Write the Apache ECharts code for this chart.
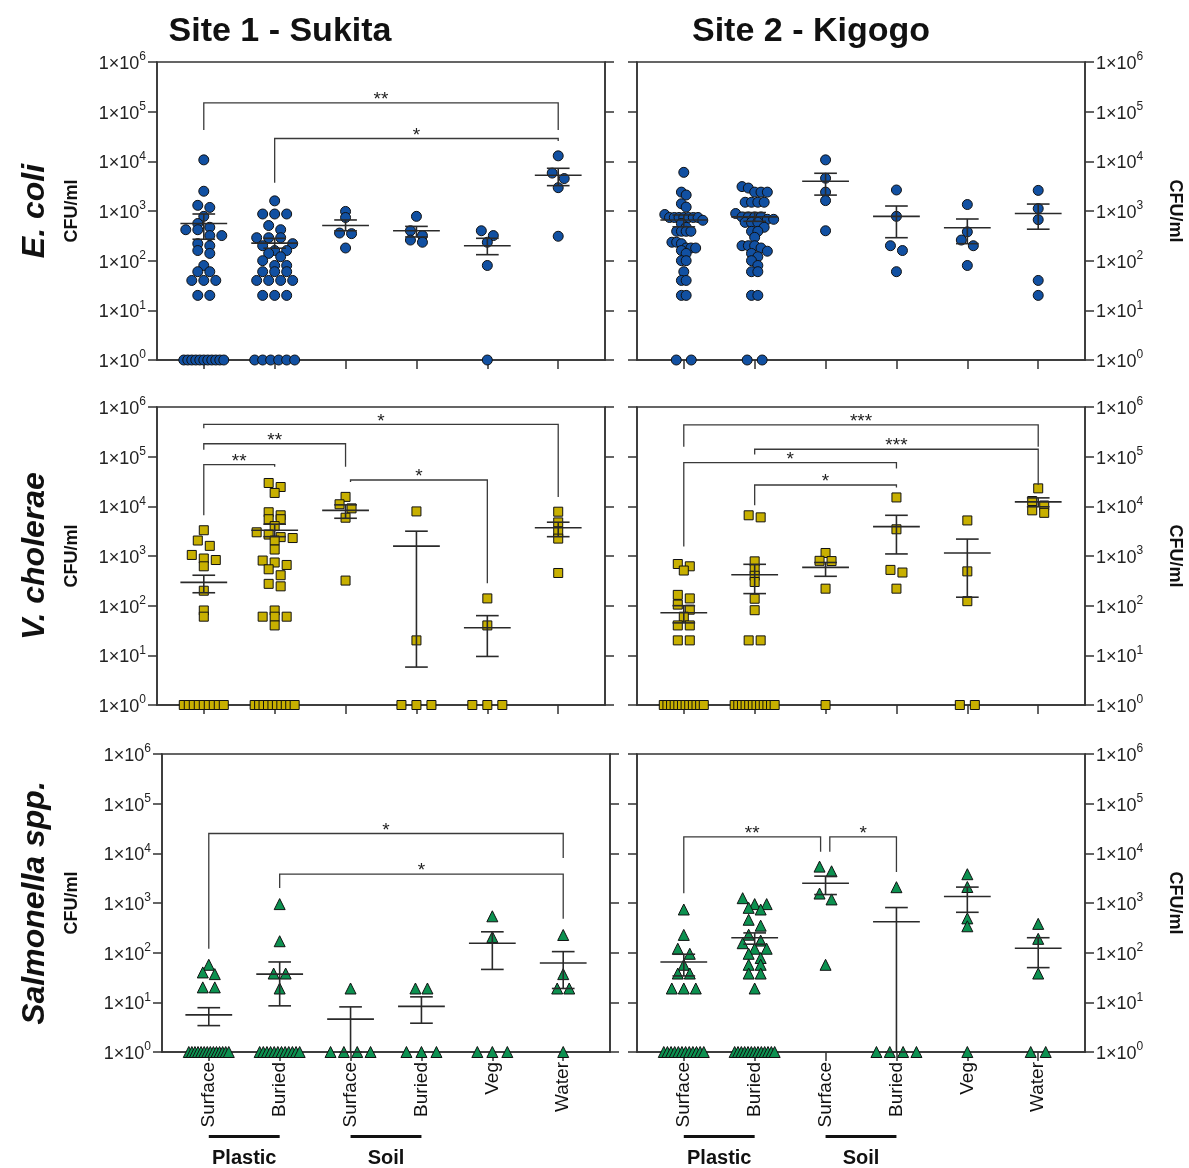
<!DOCTYPE html>
<html>
<head>
<meta charset="utf-8">
<title>CFU/ml by site</title>
<script src="https://cdn.jsdelivr.net/npm/echarts@6/dist/echarts.min.js"></script>
<style>body{margin:0;background:#fff;}</style>
</head>
<body>
<div id="main" style="width:1189px;height:1168px;"></div>
<script>
var cats = ['Surface', 'Buried', 'Surface', 'Buried', 'Veg', 'Water'];
var sites = ['Site 1 - Sukita', 'Site 2 - Kigogo'];
var bugs = ['E. coli', 'V. cholerae', 'Salmonella spp.'];
var groups = ['Plastic', 'Soil'];

// CFU/ml per sample, samples with no growth are plotted at 1
var ecoliSukita = [
  [10700, 2500, 1300, 1180, 780, 560, 470, 420, 420, 320, 320, 220, 200, 160, 140, 80, 60, 60, 40, 40, 40, 20, 20, 1, 1, 1, 1, 1, 1, 1, 1, 1, 1, 1],
  [1600, 870, 870, 870, 510, 420, 290, 290, 290, 220, 200, 160, 160, 140, 120, 100, 80, 80, 60, 60, 60, 40, 40, 40, 40, 20, 20, 20, 1, 1, 1, 1, 1, 1],
  [980, 740, 360, 350, 180],
  [780, 400, 320, 260, 235],
  [400, 320, 235, 80, 1],
  [12900, 5800, 4500, 2950, 310]
];
var ecoliKigogo = [
  [6000, 2400, 2100, 1400, 1200, 850, 740, 740, 740, 740, 740, 740, 740, 650, 560, 470, 390, 390, 390, 390, 235, 235, 220, 180, 180, 180, 160, 140, 100, 100, 60, 40, 40, 20, 20, 1, 1],
  [3100, 2900, 2400, 2400, 2400, 1500, 1500, 1500, 1500, 890, 760, 760, 760, 760, 680, 680, 590, 590, 590, 470, 390, 390, 295, 200, 200, 200, 180, 155, 140, 120, 100, 80, 60, 60, 20, 20, 1, 1],
  [10700, 4570, 2400, 1620, 400],
  [2650, 780, 200, 160, 60],
  [1350, 380, 260, 200, 80],
  [2600, 1120, 670, 40, 20]
];
var vcholSukita = [
  [3300, 2050, 1600, 1050, 890, 830, 620, 200, 80, 60, 1, 1, 1, 1, 1, 1, 1, 1, 1],
  [29500, 24500, 18600, 7600, 6600, 5500, 5500, 4000, 3000, 2700, 2400, 2300, 2050, 1350, 810, 740, 660, 540, 410, 275, 245, 80, 60, 60, 60, 40, 1, 1, 1, 1, 1, 1, 1, 1, 1, 1],
  [15500, 11000, 9100, 5900, 320],
  [7900, 20, 1, 1, 1],
  [140, 40, 1, 1, 1],
  [7800, 4750, 3100, 2240, 455]
];
var vcholKigogo = [
  [690, 620, 510, 165, 140, 105, 83, 60, 40, 40, 20, 20, 1, 1, 1, 1, 1, 1, 1, 1, 1, 1, 1, 1],
  [6600, 6000, 780, 540, 400, 300, 138, 81, 20, 20, 1, 1, 1, 1, 1, 1, 1, 1, 1, 1, 1, 1],
  [1150, 800, 790, 220, 1],
  [15100, 3450, 525, 465, 220],
  [5200, 490, 123, 1, 1],
  [23000, 12800, 10400, 8300, 7400]
];
var salmSukita = [
  [57, 40, 37, 20, 20, 1, 1, 1, 1, 1, 1, 1, 1, 1, 1, 1, 1, 1, 1],
  [950, 170, 38, 38, 19, 1, 1, 1, 1, 1, 1, 1, 1, 1, 1, 1, 1],
  [19, 1, 1, 1, 1],
  [19, 19, 1, 1, 1],
  [540, 207, 1, 1, 1],
  [227, 37, 19, 19, 1]
];
var salmKigogo = [
  [740, 228, 120, 95, 57, 38, 38, 19, 19, 19, 1, 1, 1, 1, 1, 1, 1, 1, 1, 1, 1, 1],
  [1250, 950, 950, 800, 740, 460, 350, 230, 175, 155, 120, 120, 95, 78, 57, 57, 38, 38, 19, 1, 1, 1, 1, 1, 1, 1, 1, 1, 1, 1, 1, 1],
  [5400, 4350, 1550, 1180, 57],
  [2080, 1, 1, 1, 1],
  [3800, 2100, 490, 340, 1],
  [380, 190, 38, 1, 1]
];

// mean, lower SEM, upper SEM (CFU/ml) per column
var ecoliSukitaMean = [[560, 270, 870], [225, 178, 282], [510, 400, 660], [400, 300, 490], [200, 132, 282], [5250, 3240, 7240]];
var ecoliKigogoMean = [[660, 480, 830], [760, 620, 930], [3980, 2090, 5750], [780, 290, 1260], [460, 220, 690], [890, 430, 1380]];
var vcholSukitaMean = [[295, 182, 410], [3310, 2450, 4370], [8300, 5750, 10700], [1580, 5.8, 3160], [36, 9.5, 63], [3700, 2450, 4790]];
var vcholKigogoMean = [[72, 45, 100], [420, 175, 680], [590, 390, 740], [3900, 1100, 6600], [1150, 148, 2190], [12300, 9800, 14800]];
var salmSukitaMean = [[5.6, 3.4, 7.8], [37, 8.5, 65], [4.6, 1, 8.1], [8.3, 3.8, 12.9], [155, 46, 263], [62, 19, 105]];
var salmKigogoMean = [[65, 34, 93], [200, 148, 250], [2500, 1480, 3470], [420, 1, 810], [1350, 650, 2090], [123, 50, 200]];

// significance brackets: from column, to column, bar level, left leg end, right leg end
var ecoliSukitaSig = [[1, 6, 151000, 42700, 42700], [2, 6, 28800, 3700, 25700]];
var ecoliSukitaStars = ['**', '*'];
var ecoliKigogoSig = [];
var ecoliKigogoStars = [];
var vcholSukitaSig = [[1, 6, 447000, 372000, 15500], [1, 3, 182000, 138000, 63000], [1, 2, 69000, 6600, 63000], [3.07, 5, 33900, 30900, 282]];
var vcholSukitaStars = ['*', '**', '**', '*'];
var vcholKigogoSig = [[1, 6, 436000, 158000, 158000], [2, 6, 141000, 110000, 26900], [1, 4, 75900, 1550, 57500], [2, 4, 26900, 10500, 24000]];
var vcholKigogoStars = ['***', '***', '*', '*'];
var salmSukitaSig = [[1, 6, 25100, 120, 8100], [2, 6, 3800, 2000, 480]];
var salmSukitaStars = ['*', '*'];
var salmKigogoSig = [[1, 2.93, 21400, 1580, 10700], [3.06, 4, 21400, 10700, 4200]];
var salmKigogoStars = ['**', '*'];

var FONT = '"Liberation Sans", Arial, sans-serif';
var INK = '#333';
var W = 448, H = 298, XMIN = 0.34, XMAX = 6.66;
var tops = [62, 407, 754];
var lefts = [[157, 637], [157, 637], [162, 637]];

var panels = [
  { pts: ecoliSukita, mean: ecoliSukitaMean, sig: ecoliSukitaSig, stars: ecoliSukitaStars, symbol: 'circle', size: 10, color: '#1150a2' },
  { pts: ecoliKigogo, mean: ecoliKigogoMean, sig: ecoliKigogoSig, stars: ecoliKigogoStars, symbol: 'circle', size: 10, color: '#1150a2' },
  { pts: vcholSukita, mean: vcholSukitaMean, sig: vcholSukitaSig, stars: vcholSukitaStars, symbol: 'rect', size: 9, color: '#c8b000' },
  { pts: vcholKigogo, mean: vcholKigogoMean, sig: vcholKigogoSig, stars: vcholKigogoStars, symbol: 'rect', size: 9, color: '#c8b000' },
  { pts: salmSukita, mean: salmSukitaMean, sig: salmSukitaSig, stars: salmSukitaStars, symbol: 'triangle', size: 11, color: '#0c9150' },
  { pts: salmKigogo, mean: salmKigogoMean, sig: salmKigogoSig, stars: salmKigogoStars, symbol: 'triangle', size: 11, color: '#0c9150' }
];

// dot-plot layout: points within about a marker height share a row and are spread
// side by side; the column is squeezed if its widest row gets too wide.
// The no-growth row at the bottom is laid out on its own.
function spread(vals) {
  var D = 12, BIN = 6, MAXH = 19, pxX = W / (XMAX - XMIN), pxY = H / 6;
  var offs = [];
  var idx = [], zeros = [];
  vals.forEach(function (v, i) { (v <= 1 ? zeros : idx).push(i); });
  idx.sort(function (a, b) { return vals[b] - vals[a]; });
  var rows = [], cur = null;
  idx.forEach(function (i) {
    var y = Math.log10(vals[i]) * pxY;
    if (!cur || cur.y0 - y > BIN) { cur = { y0: y, ids: [] }; rows.push(cur); }
    cur.ids.push(i);
  });
  var m = 0;
  rows.forEach(function (r) {
    var n = r.ids.length;
    r.ids.forEach(function (i, j) { offs[i] = (j - (n - 1) / 2) * D; });
    m = Math.max(m, (n - 1) / 2 * D);
  });
  var k = m > MAXH ? MAXH / m : 1;
  idx.forEach(function (i) { offs[i] *= k; });
  var n = zeros.length;
  var s = n > 1 ? Math.min(15, 2 * 20 / (n - 1)) : 0;
  zeros.forEach(function (i, j) { offs[i] = (j - (n - 1) / 2) * s; });
  return offs.map(function (o) { return o / pxX; });
}

function tickLabel(v) {
  return '{a|1×10}{s|' + Math.round(Math.log10(v)) + '}';
}

var option = { animation: false, grid: [], xAxis: [], yAxis: [], series: [], graphic: [] };

panels.forEach(function (p, i) {
  var r = Math.floor(i / 2), c = i % 2;
  option.grid.push({
    left: lefts[r][c], top: tops[r], width: W, height: H,
    show: true, borderColor: INK, borderWidth: 1.5, backgroundColor: 'transparent'
  });
  option.xAxis.push({
    type: 'value', gridIndex: i, min: XMIN, max: XMAX,
    axisLine: { show: true, onZero: false, lineStyle: { color: INK, width: 1.5 } },
    axisTick: { show: true, length: 9, customValues: [1, 2, 3, 4, 5, 6], lineStyle: { color: INK, width: 1.5 } },
    axisLabel: {
      show: r === 2, customValues: [1, 2, 3, 4, 5, 6], rotate: 90, margin: 10,
      fontSize: 19, fontFamily: FONT, color: '#111',
      formatter: function (v) { return cats[Math.round(v) - 1]; }
    },
    splitLine: { show: false }
  });
  ['left', 'right'].forEach(function (pos, k) {
    option.yAxis.push({
      type: 'log', logBase: 10, gridIndex: i, position: pos, min: 1, max: 1e6, splitNumber: 6,
      axisLine: { show: true, lineStyle: { color: INK, width: 1.5 } },
      axisTick: { show: true, length: 9, lineStyle: { color: INK, width: 1.5 } },
      axisLabel: {
        show: k === c, margin: 11, formatter: tickLabel,
        rich: {
          a: { fontSize: 18, fontFamily: FONT, color: '#222', lineHeight: 22, verticalAlign: 'bottom' },
          s: { fontSize: 12, fontFamily: FONT, color: '#222', lineHeight: 22, verticalAlign: 'top' }
        }
      },
      splitLine: { show: false }
    });
  });

  var pts = [];
  p.pts.forEach(function (vals, g) {
    var offs = spread(vals);
    vals.forEach(function (v, j) { pts.push([g + 1 + offs[j], v]); });
  });
  option.series.push({
    type: 'scatter', xAxisIndex: i, yAxisIndex: 2 * i, data: pts,
    symbol: p.symbol, symbolSize: p.size, z: 3,
    itemStyle: { color: p.color, borderColor: '#111', borderWidth: 1, opacity: 1 }
  });

  option.series.push({
    type: 'custom', xAxisIndex: i, yAxisIndex: 2 * i, z: 5,
    data: p.mean.map(function (m, g) { return [g + 1, m[0], m[1], m[2]]; }),
    renderItem: function (params, api) {
      var x = api.value(0);
      var cm = api.coord([x, api.value(1)]);
      var lo = api.coord([x, api.value(2)]);
      var hi = api.coord([x, api.value(3)]);
      var u = api.coord([x + 1, api.value(1)])[0] - cm[0];
      var st = { stroke: '#2a2a2a', lineWidth: 1.6 };
      return {
        type: 'group', children: [
          { type: 'line', shape: { x1: cm[0] - 0.33 * u, y1: cm[1], x2: cm[0] + 0.33 * u, y2: cm[1] }, style: st },
          { type: 'line', shape: { x1: lo[0], y1: lo[1], x2: hi[0], y2: hi[1] }, style: st },
          { type: 'line', shape: { x1: hi[0] - 0.16 * u, y1: hi[1], x2: hi[0] + 0.16 * u, y2: hi[1] }, style: st },
          { type: 'line', shape: { x1: lo[0] - 0.16 * u, y1: lo[1], x2: lo[0] + 0.16 * u, y2: lo[1] }, style: st }
        ]
      };
    }
  });

  if (p.sig.length) {
    option.series.push({
      type: 'custom', xAxisIndex: i, yAxisIndex: 2 * i, z: 6,
      data: p.sig,
      renderItem: function (params, api) {
        var a = api.coord([api.value(0), api.value(3)]);
        var b = api.coord([api.value(0), api.value(2)]);
        var d = api.coord([api.value(1), api.value(2)]);
        var e = api.coord([api.value(1), api.value(4)]);
        return {
          type: 'group', children: [
            { type: 'polyline', shape: { points: [a, b, d, e] }, style: { stroke: '#3a3a3a', lineWidth: 1.3, fill: null } },
            {
              type: 'text', x: (b[0] + d[0]) / 2, y: b[1] - 3,
              style: { text: p.stars[params.dataIndex], fontSize: 19, fontFamily: FONT, fill: '#222', align: 'center', verticalAlign: 'middle' }
            }
          ]
        };
      }
    });
  }
});

// titles and side labels
sites.forEach(function (s, c) {
  option.graphic.push({
    type: 'text', x: c === 0 ? 280 : 811, y: 32,
    style: { text: s, fontSize: 34, fontWeight: 'bold', fontFamily: FONT, fill: '#111', align: 'center', verticalAlign: 'middle' }
  });
});
bugs.forEach(function (b, r) {
  var cy = tops[r] + H / 2;
  option.graphic.push({
    type: 'text', x: 35, y: cy, rotation: Math.PI / 2,
    style: { text: b, fontSize: 32, fontWeight: 'bold', fontStyle: 'italic', fontFamily: FONT, fill: '#111', align: 'center', verticalAlign: 'middle' }
  });
  option.graphic.push({
    type: 'text', x: 72, y: cy, rotation: Math.PI / 2,
    style: { text: 'CFU/ml', fontSize: 18, fontWeight: 'bold', fontFamily: FONT, fill: '#111', align: 'center', verticalAlign: 'middle' }
  });
  option.graphic.push({
    type: 'text', x: 1175, y: cy, rotation: -Math.PI / 2,
    style: { text: 'CFU/ml', fontSize: 18, fontWeight: 'bold', fontFamily: FONT, fill: '#111', align: 'center', verticalAlign: 'middle' }
  });
});

var myChart = echarts.init(document.getElementById('main'));
myChart.setOption(option);

// group bars under the bottom row (Plastic: cols 1-2, Soil: cols 3-4)
var extra = [];
[4, 5].forEach(function (ax) {
  groups.forEach(function (name, k) {
    var x1 = myChart.convertToPixel({ xAxisIndex: ax }, 1 + 2 * k);
    var x2 = myChart.convertToPixel({ xAxisIndex: ax }, 2 + 2 * k);
    extra.push({ type: 'rect', shape: { x: x1, y: 1135, width: x2 - x1, height: 3 }, style: { fill: '#111' } });
    extra.push({
      type: 'text', x: (x1 + x2) / 2, y: 1158,
      style: { text: name, fontSize: 20, fontWeight: 'bold', fontFamily: FONT, fill: '#111', align: 'center', verticalAlign: 'middle' }
    });
  });
});
myChart.setOption({ graphic: option.graphic.concat(extra) });
</script>
</body>
</html>
